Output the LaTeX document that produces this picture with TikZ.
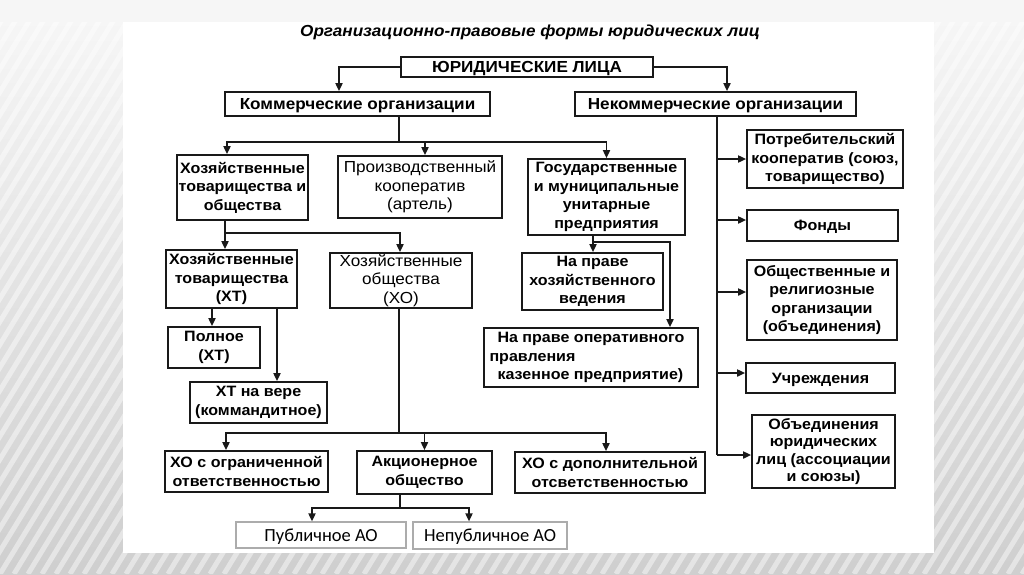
\documentclass[tikz,border=0pt]{standalone}
\usepackage{fontspec}
\setmainfont{Liberation Sans}[FakeStretch=1.07]
\newfontfamily\aofont{Carlito}
\usetikzlibrary{arrows.meta}
\begin{document}
\begin{tikzpicture}[x=1pt,y=-1pt,
  box/.style={draw=black!90, line width=1.7pt, inner sep=0pt, align=center, font=\bfseries\fontsize{15}{18.5}\selectfont},
  rbox/.style={box, font=\fontsize{16}{18.5}\selectfont},
  hbox/.style={box, font=\bfseries\fontsize{16}{18}\selectfont, text height=11.5pt, text depth=0pt},
  onebox/.style={box, text height=10.8pt, text depth=0pt},
  aobox/.style={draw=gray!65, line width=1.2pt, inner sep=0pt, font=\aofont\fontsize{18.5}{20}\selectfont, text height=12pt, text depth=0pt},
  ln/.style={line width=1.7pt, draw=black!90},
  arr/.style={ln, -{Triangle[length=8pt,width=7pt]}},
]
\useasboundingbox (0,0) rectangle (1024,574);
% background
\fill[top color=gray!6, bottom color=gray!38] (0,0) rectangle (1024,574);
\begin{scope}
  \clip (0,22) rectangle (123,574) (934,22) rectangle (1024,574) (0,553) rectangle (1024,574);
  \foreach \i in {-420,-406,...,1100} {
    \draw[white, opacity=0.45, line width=5pt] (\i,574) -- (\i+350,0);
  }
\end{scope}
\fill[gray!7] (0,0) rectangle (1024,22);
\fill[white] (123,22) rectangle (934,553);

% title
\node[font=\bfseries\itshape\fontsize{16}{18}\selectfont] (title) at (530,32) {Организационно-правовые формы юридических лиц};

% nodes
\node[hbox, minimum width=252pt, minimum height=20pt] (jur) at (527,67) {ЮРИДИЧЕСКИЕ ЛИЦА};
\node[hbox, minimum width=265pt, minimum height=24pt] (kom) at (357.5,104) {Коммерческие организации};
\node[hbox, minimum width=281pt, minimum height=24pt] (nekom) at (715.5,104) {Некоммерческие организации};

\node[box, minimum width=131pt, minimum height=65pt] (htio) at (242.5,187.5) {Хозяйственные\\товарищества и\\общества};
\node[rbox, minimum width=164pt, minimum height=62pt] (pk) at (420,187) {Производственный\\кооператив\\(артель)};
\node[box, minimum width=157pt, minimum height=76pt] (gmup) at (606.5,197) {Государственные\\и муниципальные\\унитарные\\предприятия};

\node[box, minimum width=131pt, minimum height=58pt] (ht) at (231.5,279) {Хозяйственные\\товарищества\\(ХТ)};
\node[rbox, minimum width=142pt, minimum height=55pt] (ho) at (401,280.5) {Хозяйственные\\общества\\(ХО)};
\node[box, minimum width=92pt, minimum height=41pt] (pol) at (214,347.5) {Полное\\(ХТ)};
\node[box, minimum width=137pt, minimum height=41pt] (htv) at (258.5,402.5) {ХТ на вере\\(коммандитное)};

\node[box, minimum width=141pt, minimum height=57pt] (hv) at (592.5,281.5) {На праве\\хозяйственного\\ведения};
\node[box, minimum width=214pt, minimum height=59pt, align=left] (ou) at (591,357.5) {На праве оперативного\\\hspace*{-8pt}правления\\казенное предприятие)};

\node[box, minimum width=163pt, minimum height=41pt] (ooo) at (246.5,471.5) {ХО с ограниченной\\ответственностью};
\node[box, minimum width=135pt, minimum height=43pt] (ao) at (424.5,472.5) {Акционерное\\общество};
\node[box, minimum width=190pt, minimum height=41pt] (odo) at (610,472.5) {ХО с дополнительной\\отсветственностью};
\node[aobox, minimum width=170pt, minimum height=26pt] (pao) at (321,535) {Публичное АО};
\node[aobox, minimum width=154pt, minimum height=27pt] (npao) at (490,535.5) {Непубличное АО};

\node[box, minimum width=156pt, minimum height=58pt] (potr) at (825,159) {Потребительский\\кооператив (союз,\\товарищество)};
\node[onebox, minimum width=151pt, minimum height=31pt] (fond) at (822.5,225.5) {Фонды};
\node[box, minimum width=150pt, minimum height=80pt] (obsch) at (822,300) {Общественные и\\религиозные\\организации\\(объединения)};
\node[onebox, minimum width=149pt, minimum height=30pt] (uchr) at (820.5,378) {Учреждения};
\node[box, minimum width=143pt, minimum height=73pt, font=\bfseries\fontsize{15}{17.5}\selectfont] (obed) at (823.5,451.5) {Объединения\\юридических\\лиц (ассоциации\\и союзы)};

% junctions
\coordinate (j1) at (399,142);
\coordinate (j2) at (225,233);
\coordinate (j3) at (399,433);
\coordinate (j4) at (400,508);
\coordinate (j5) at (593,242);
\coordinate (v) at (717,0);

% connectors
\draw[arr] (jur.west) -| ([xshift=-18.5pt]kom.north);
\draw[arr] (jur.east) -| ([xshift=11.5pt]nekom.north);

\draw[ln] ([xshift=41.5pt]kom.south) -- (j1);
\draw[arr] (j1) -| ([xshift=-15.5pt]htio.north);
\draw[arr] (j1) -| ([xshift=5pt]pk.north);
\draw[arr] (j1) -| (gmup.north);

\draw[ln] ([xshift=-17.5pt]htio.south) -- (j2);
\draw[arr] (j2) -- (j2 |- ht.north);
\draw[arr] (j2) -| ([xshift=-1pt]ho.north);

\draw[arr] ([xshift=-19.5pt]ht.south) -- ([xshift=-19.5pt]ht.south |- pol.north);
\draw[arr] ([xshift=45.5pt]ht.south) -- ([xshift=45.5pt]ht.south |- htv.north);

\draw[ln] ([xshift=-2pt]ho.south) -- (j3);
\draw[arr] (j3) -| ([xshift=-20.5pt]ooo.north);
\draw[arr] (j3) -| (ao.north);
\draw[arr] (j3) -| ([xshift=-4pt]odo.north);

\draw[ln] ([xshift=-24.5pt]ao.south) -- (j4);
\draw[arr] (j4) -| ([xshift=-9pt]pao.north);
\draw[arr] (j4) -| ([xshift=-21pt]npao.north);

\draw[arr] ([xshift=-13.5pt]gmup.south) -- ([xshift=-13.5pt]gmup.south |- hv.north);
\draw[arr] (j5) -| ([xshift=79pt]ou.north);

\draw[ln] (nekom.south -| v) -- ([yshift=-3.5pt]v |- obed.west);
\draw[arr] (v |- potr.west) -- (potr.west);
\draw[arr] ([yshift=5.5pt]v |- fond.west) -- ([yshift=5.5pt]fond.west);
\draw[arr] ([yshift=8pt]v |- obsch.west) -- ([yshift=8pt]obsch.west);
\draw[arr] ([yshift=5pt]v |- uchr.west) -- ([yshift=5pt]uchr.west);
\draw[arr] ([yshift=-3.5pt]v |- obed.west) -- ([yshift=-3.5pt]obed.west);
\end{tikzpicture}
\end{document}
